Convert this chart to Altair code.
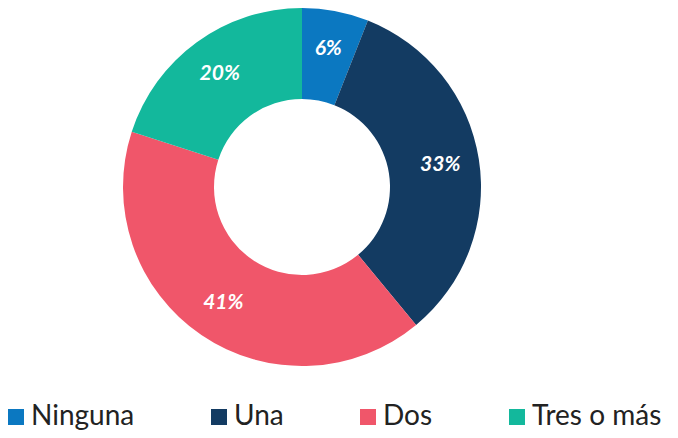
import altair as alt
import pandas as pd

categories = ["Ninguna", "Una", "Dos", "Tres o más"]
values = [6, 33, 41, 20]
labels = ["6%", "33%", "41%", "20%"]
colors = ["#0b78c1", "#133b62", "#f0566a", "#13b89c"]

df = pd.DataFrame({
    "cat": categories,
    "value": values,
    "label": labels,
    "idx": list(range(len(categories))),
})

base = alt.Chart(df).encode(
    theta=alt.Theta("value:Q", stack=True),
    order=alt.Order("idx:Q", sort="ascending"),
)

arcs = base.mark_arc(outerRadius=179, innerRadius=88).encode(
    color=alt.Color(
        "cat:N",
        scale=alt.Scale(domain=categories, range=colors),
        sort=categories,
        legend=alt.Legend(
            title=None,
            orient="none",
            direction="horizontal",
            legendX=-6,
            legendY=395,
            symbolType="square",
            symbolSize=256,
            symbolStrokeWidth=0,
            symbolOpacity=1,
            labelFont="Lato",
            labelFontSize=28,
            labelColor="#222222",
            labelOffset=1,
            columnPadding=70,
            labelLimit=300,
        ),
    )
)

text = base.mark_text(
    radius=140,
    font="Lato",
    fontSize=21,
    fontStyle="italic",
    fontWeight="bold",
    color="white",
).encode(
    text="label:N",
    detail="cat:N",
)

chart = (
    (arcs + text)
    .properties(
        width=588,
        height=358,
        autosize=alt.AutoSizeParams(type="none"),
        padding={"left": 0, "top": 0, "right": 74, "bottom": 64},
    )
    .configure_view(stroke=None)
)

chart.save("out.html", embed_options={"renderer": "svg", "actions": False})
